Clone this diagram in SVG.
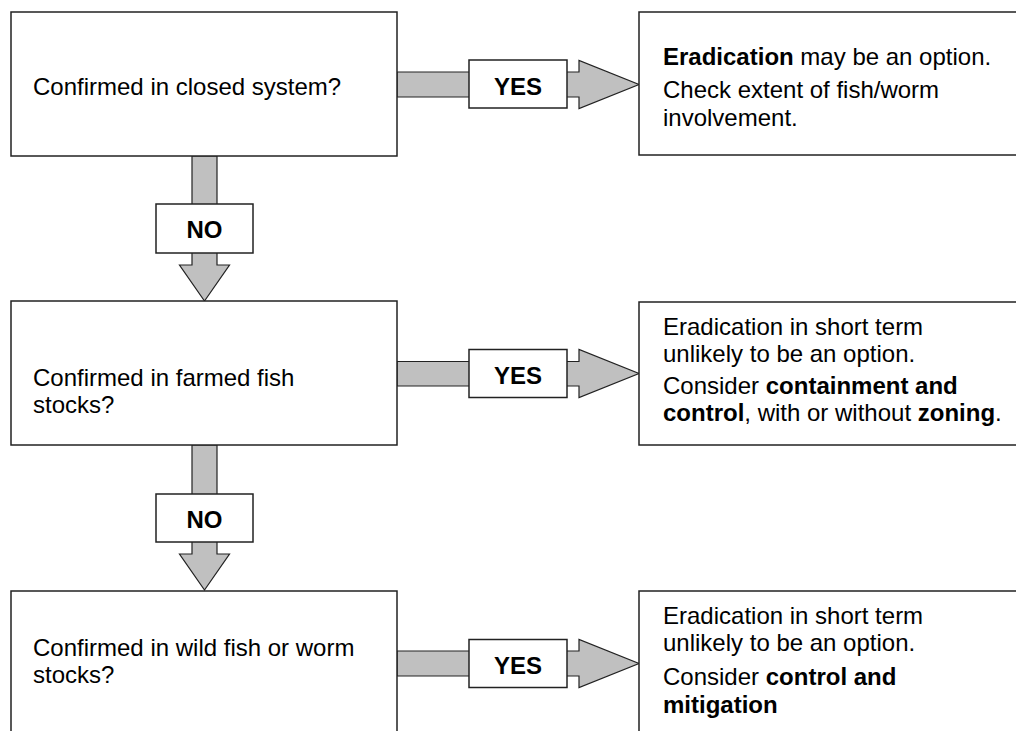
<svg xmlns="http://www.w3.org/2000/svg" width="1016" height="731" viewBox="0 0 1016 731">
<style>
.box{fill:#fff;stroke:#222;stroke-width:1.5}
.arr{fill:#c0c0c0;stroke:#222;stroke-width:1.2;stroke-linejoin:miter}
.lab{fill:#fff;stroke:#222;stroke-width:1.5}
text{font-family:"Liberation Sans",Arial,sans-serif;font-size:24px;fill:#000}
.b{font-weight:bold}
.lt{font-weight:bold;font-size:24px;text-anchor:middle}
</style>
<rect width="1016" height="731" fill="#fff"/>
<g id="connectors">
<g id="yes1">
<polygon class="arr" points="397,72 579,72 579,60.5 639,84.5 579,108.5 579,97 397,97"/>
<rect class="lab" x="469" y="60" width="98" height="48"/>
<text class="lt" x="518" y="95">YES</text>
</g>
<g id="yes2">
<polygon class="arr" points="397,361.5 579,361.5 579,349.5 639,373.5 579,397.5 579,386 397,386"/>
<rect class="lab" x="469" y="349.5" width="98" height="48"/>
<text class="lt" x="518" y="384">YES</text>
</g>
<g id="yes3">
<polygon class="arr" points="397,651 579,651 579,639.5 639,663.5 579,687.5 579,676 397,676"/>
<rect class="lab" x="469" y="639.5" width="98" height="48"/>
<text class="lt" x="518" y="674">YES</text>
</g>
<g id="no1">
<polygon class="arr" points="192,156 217,156 217,265 229.5,265 204.5,301 179.5,265 192,265"/>
<rect class="lab" x="156" y="204" width="97" height="49"/>
<text class="lt" x="204.5" y="238">NO</text>
</g>
<g id="no2">
<polygon class="arr" points="192,445 217,445 217,554 229.5,554 204.5,590 179.5,554 192,554"/>
<rect class="lab" x="156" y="494" width="97" height="48"/>
<text class="lt" x="204.5" y="528">NO</text>
</g>
</g>
<g id="q1">
<rect class="box" x="11" y="12" width="386" height="144"/>
<text x="33" y="95">Confirmed in closed system?</text>
</g>
<g id="q2">
<rect class="box" x="11" y="301" width="386" height="144"/>
<text x="33" y="386">Confirmed in farmed fish</text>
<text x="33" y="413">stocks?</text>
</g>
<g id="q3">
<rect class="box" x="11" y="591" width="386" height="160"/>
<text x="33" y="656">Confirmed in wild fish or worm</text>
<text x="33" y="683">stocks?</text>
</g>
<g id="a1">
<rect class="box" x="639" y="12" width="400" height="143"/>
<text x="663" y="65"><tspan class="b">Eradication</tspan> may be an option.</text>
<text x="663" y="98">Check extent of fish/worm</text>
<text x="663" y="126">involvement.</text>
</g>
<g id="a2">
<rect class="box" x="639" y="302" width="400" height="143"/>
<text x="663" y="335">Eradication in short term</text>
<text x="663" y="362">unlikely to be an option.</text>
<text x="663" y="394">Consider <tspan class="b">containment and</tspan></text>
<text x="663" y="421"><tspan class="b">control</tspan>, with or without <tspan class="b">zoning</tspan>.</text>
</g>
<g id="a3">
<rect class="box" x="639" y="591" width="400" height="160"/>
<text x="663" y="624">Eradication in short term</text>
<text x="663" y="651">unlikely to be an option.</text>
<text x="663" y="685">Consider <tspan class="b">control and</tspan></text>
<text x="663" y="713"><tspan class="b">mitigation</tspan></text>
</g>
</svg>
